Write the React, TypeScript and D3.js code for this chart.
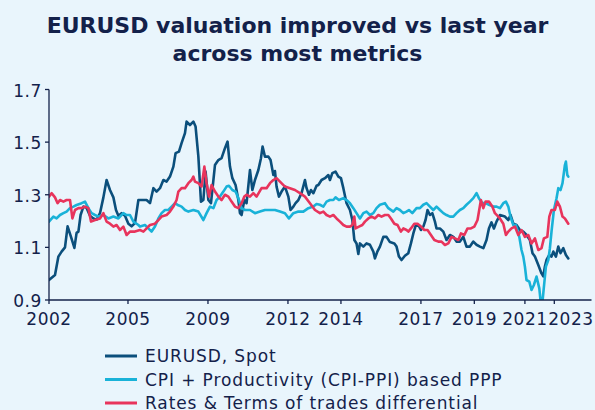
import React from 'react';
import * as d3 from 'd3';

// months since Jan 2002 (as placed on the chart's axis), value
const spot: [number, number][] = [
  [0, 0.976], [3, 0.995], [4.7, 1.065], [6.3, 1.084], [8, 1.1], [9.3, 1.18], [11, 1.14], [12.7, 1.098],
  [13.8, 1.155], [14.7, 1.16], [15.8, 1.223], [17.2, 1.255], [18.8, 1.25], [20.5, 1.22], [22.2, 1.21],
  [23.8, 1.205], [25.5, 1.23], [27.2, 1.29], [28.8, 1.356], [30.5, 1.318], [32.2, 1.29], [33.5, 1.242],
  [34.7, 1.22], [36.3, 1.23], [38, 1.22], [39.7, 1.19], [41.3, 1.18], [43, 1.192], [44.7, 1.28],
  [46.3, 1.28], [48.8, 1.28], [50.5, 1.268], [52.2, 1.325], [53.8, 1.312], [55.5, 1.325], [57.2, 1.356],
  [58.8, 1.35], [60.5, 1.369], [62.2, 1.407], [63.3, 1.458], [65, 1.464], [66.3, 1.496], [68, 1.534],
  [68.8, 1.578], [70.5, 1.565], [72.2, 1.578], [73.3, 1.559], [74.7, 1.445], [76, 1.274], [77.2, 1.28],
  [78.3, 1.388], [79.7, 1.28], [81, 1.268], [83, 1.413], [84.7, 1.432], [86.3, 1.439], [88, 1.477],
  [89.3, 1.502], [90.5, 1.407], [91.7, 1.363], [93.3, 1.337], [94.7, 1.28], [95.5, 1.23], [96.3, 1.223],
  [97.7, 1.28], [98.8, 1.268], [100.5, 1.394], [101.7, 1.318], [103, 1.356], [104.7, 1.394], [106, 1.439],
  [106.8, 1.483], [108, 1.445], [109.7, 1.445], [110.8, 1.432], [112.2, 1.375], [113, 1.39], [113.8, 1.331],
  [115, 1.293], [116.3, 1.312], [118, 1.331], [119.7, 1.293], [120.8, 1.242], [122.2, 1.255], [123.3, 1.268],
  [124.7, 1.28], [126.3, 1.306], [128, 1.356], [128.8, 1.325], [130, 1.3], [131, 1.318], [132.2, 1.306],
  [133.8, 1.334], [134.7, 1.337], [136.3, 1.356], [138, 1.363], [139.7, 1.375], [140.5, 1.356],
  [141.7, 1.382], [143.3, 1.388], [144.7, 1.369], [146, 1.363], [147.2, 1.325], [148.8, 1.268],
  [150.5, 1.242], [151.7, 1.204], [152.7, 1.128], [153.8, 1.115], [154.7, 1.075], [155.5, 1.115],
  [157.2, 1.103], [158.8, 1.115], [160.5, 1.11], [162.2, 1.084], [163, 1.058], [164.2, 1.084],
  [165.5, 1.103], [167.2, 1.14], [168.8, 1.14], [170.5, 1.12], [172.7, 1.115], [173.8, 1.103],
  [175, 1.065], [176.3, 1.052], [178, 1.068], [179.7, 1.078], [181, 1.115], [182.2, 1.153], [183.3, 1.181],
  [184.7, 1.185], [186, 1.166], [187.2, 1.179], [188.3, 1.204], [189.3, 1.242], [190.5, 1.223],
  [191.7, 1.23], [193, 1.198], [193.8, 1.172], [195.5, 1.172], [197.2, 1.16], [198.8, 1.128],
  [200.5, 1.147], [202.2, 1.14], [203.8, 1.122], [205.5, 1.122], [207.2, 1.14], [208.8, 1.103],
  [210.5, 1.103], [212.2, 1.122], [213.8, 1.11], [215.5, 1.103], [217.2, 1.097], [218.8, 1.128],
  [220, 1.172], [221.3, 1.195], [222.5, 1.172], [223.8, 1.198], [225.5, 1.223], [228, 1.217],
  [229.7, 1.204], [230.8, 1.223], [232.2, 1.19], [233.8, 1.185], [235.5, 1.166], [237.2, 1.16],
  [238.8, 1.147], [240.5, 1.128], [241.8, 1.078], [243, 1.065], [244.7, 1.033], [246.3, 1.001],
  [247.2, 0.99], [248, 1.027], [248.8, 1.052], [250.2, 1.071], [251.3, 1.065], [252.2, 1.084],
  [253.5, 1.065], [254.7, 1.103], [255.8, 1.078], [257.2, 1.097], [258.5, 1.071], [259.7, 1.058],
];

const ppp: [number, number][] = [
  [0, 1.198], [2.2, 1.217], [3.8, 1.21], [5.5, 1.223], [7.2, 1.23], [8.8, 1.236], [10.5, 1.249],
  [12.2, 1.255], [13.8, 1.261], [16.3, 1.268], [18, 1.274], [19.7, 1.249], [21.3, 1.23], [23, 1.223],
  [24.7, 1.217], [27.2, 1.223], [29.7, 1.21], [32.2, 1.217], [34.7, 1.21], [37.2, 1.23], [38.8, 1.223],
  [40.5, 1.223], [42.2, 1.198], [44.7, 1.185], [45.5, 1.179], [48, 1.185], [49.7, 1.172], [51.3, 1.16],
  [53, 1.179], [54.7, 1.21], [56.3, 1.23], [58, 1.242], [59.7, 1.242], [61.3, 1.255], [63, 1.268],
  [64.7, 1.26], [66.3, 1.255], [68, 1.242], [69.7, 1.236], [72.2, 1.242], [74.7, 1.236], [77.2, 1.204],
  [78.8, 1.23], [80.5, 1.255], [82.2, 1.249], [83.8, 1.28], [85.5, 1.293], [87.2, 1.312], [88.8, 1.331],
  [90, 1.334], [91.7, 1.318], [93.3, 1.312], [94.7, 1.287], [96.3, 1.249], [98, 1.242], [100.5, 1.242],
  [103, 1.23], [105.5, 1.236], [108, 1.242], [110.5, 1.242], [113, 1.242], [115.5, 1.236], [118, 1.23],
  [120, 1.21], [122.2, 1.23], [124.7, 1.236], [127.2, 1.236], [129.7, 1.249], [132.2, 1.255],
  [133.8, 1.265], [135.5, 1.262], [137.2, 1.255], [138.8, 1.274], [140.5, 1.28], [142.2, 1.28],
  [143.3, 1.29], [145, 1.28], [147.2, 1.287], [148.8, 1.28], [150.5, 1.268], [152.2, 1.249],
  [153.8, 1.23], [155.5, 1.21], [157.2, 1.23], [158.8, 1.236], [160.5, 1.223], [162.2, 1.23],
  [163.8, 1.249], [165.5, 1.262], [168, 1.268], [169.7, 1.249], [172.2, 1.236], [173.8, 1.249],
  [175.5, 1.242], [177.2, 1.23], [178.8, 1.236], [180, 1.242], [181.7, 1.23], [183.8, 1.249],
  [185.5, 1.249], [187.2, 1.262], [188.8, 1.268], [190.5, 1.255], [192.2, 1.242], [193.8, 1.255],
  [195.5, 1.242], [197.2, 1.23], [198.8, 1.223], [200.5, 1.217], [202.2, 1.217], [203.8, 1.23],
  [205.5, 1.242], [207.2, 1.249], [208.8, 1.262], [210.5, 1.274], [212.2, 1.287], [213.8, 1.306],
  [215, 1.287], [216.7, 1.268], [218.3, 1.268], [220, 1.262], [222.2, 1.255], [223.8, 1.255],
  [225.5, 1.249], [227.2, 1.268], [228.5, 1.274], [229.7, 1.255], [230.8, 1.217], [232.2, 1.185],
  [233.5, 1.185], [235.2, 1.14], [236.3, 1.09], [237.2, 1.065], [238, 1.027], [238.8, 0.976],
  [240.2, 0.97], [241.3, 0.938], [242.5, 0.957], [243.8, 0.989], [245.2, 0.944], [245.8, 0.9],
  [246.8, 0.895], [247.5, 0.95], [248.5, 1.027], [249.7, 1.052], [250.5, 1.097], [251.3, 1.16],
  [252.5, 1.242], [253.8, 1.287], [254.7, 1.325], [255.8, 1.318], [256.8, 1.344], [258, 1.413],
  [258.5, 1.426], [259.2, 1.375], [259.7, 1.369],
];

const ratesTot: [number, number][] = [
  [0, 1.293], [1.3, 1.306], [3, 1.29], [4.3, 1.268], [5.5, 1.28], [7.2, 1.274], [8.8, 1.28], [10.5, 1.28],
  [11.7, 1.21], [13, 1.242], [14.7, 1.249], [16.3, 1.249], [18, 1.255], [19.7, 1.249], [21, 1.198],
  [23, 1.204], [25.5, 1.21], [27.2, 1.23], [28.8, 1.198], [30.5, 1.19], [32.2, 1.179], [33.8, 1.185],
  [35.5, 1.166], [37.2, 1.179], [38.8, 1.147], [40.5, 1.16], [43, 1.16], [45.5, 1.166], [47.2, 1.16],
  [48.8, 1.172], [50.5, 1.185], [53, 1.19], [54.7, 1.204], [56.3, 1.217], [58.8, 1.223], [60.5, 1.236],
  [62.2, 1.255], [63.8, 1.28], [64.7, 1.312], [66.3, 1.325], [68, 1.325], [69.7, 1.344], [71.3, 1.356],
  [72.2, 1.369], [73, 1.35], [74.7, 1.344], [76.3, 1.331], [77.7, 1.407], [78.8, 1.344], [80, 1.293],
  [81.3, 1.337], [83, 1.312], [84.7, 1.293], [86.3, 1.28], [88, 1.3], [89.7, 1.293], [91.3, 1.274],
  [93, 1.255], [94.7, 1.249], [96.3, 1.268], [97.7, 1.293], [98.8, 1.3], [100.5, 1.293], [102.2, 1.306],
  [103.8, 1.293], [106.3, 1.325], [108.8, 1.325], [110.5, 1.344], [112.2, 1.356], [113.8, 1.363],
  [115.5, 1.35], [118, 1.331], [120.5, 1.325], [123, 1.318], [125.5, 1.306], [128, 1.293], [130.5, 1.268],
  [133, 1.242], [135.5, 1.23], [137.2, 1.236], [138.8, 1.223], [140.5, 1.217], [142.2, 1.223],
  [143.8, 1.21], [145.5, 1.198], [147.2, 1.185], [148.8, 1.179], [150.5, 1.179], [151.7, 1.185],
  [152.7, 1.217], [153.3, 1.172], [155, 1.179], [156.7, 1.185], [158, 1.198], [159.7, 1.21],
  [161.3, 1.217], [163, 1.21], [164.7, 1.223], [166.3, 1.217], [168, 1.223], [169.7, 1.223], [171, 1.21],
  [172.7, 1.19], [174.3, 1.185], [176, 1.16], [177.2, 1.172], [178.8, 1.166], [179.7, 1.16], [181, 1.172],
  [182.7, 1.19], [184.3, 1.19], [186, 1.179], [187.7, 1.166], [189.3, 1.166], [191, 1.147], [192.7, 1.128],
  [194.7, 1.122], [196.3, 1.122], [198, 1.109], [199.7, 1.115], [201.3, 1.14], [203, 1.134],
  [204.7, 1.128], [206, 1.153], [207.7, 1.147], [209.3, 1.172], [211, 1.172], [212.7, 1.179],
  [214.3, 1.204], [216, 1.28], [217.2, 1.249], [218.3, 1.274], [220, 1.274], [221.7, 1.255], [223, 1.23],
  [224.7, 1.217], [225.5, 1.21], [227.2, 1.19], [228.5, 1.147], [229.7, 1.16], [231.3, 1.172],
  [233, 1.179], [234.7, 1.147], [236.3, 1.166], [238, 1.14], [239.7, 1.147], [241.3, 1.115],
  [243, 1.134], [244.7, 1.09], [246.3, 1.097], [247.5, 1.134], [249.2, 1.14], [250.2, 1.217],
  [251.3, 1.242], [253, 1.242], [254.2, 1.274], [255.5, 1.255], [256.8, 1.217], [258, 1.21], [259.7, 1.19],
];

const seriesNames = ['EURUSD, Spot', 'CPI + Productivity (CPI-PPI) based PPP', 'Rates & Terms of trades differential'];
const seriesColors = ['#0b4f7c', '#19b2d8', '#e8345c'];
const yTicks = [0.9, 1.1, 1.3, 1.5, 1.7];
const xTickLabels = ['2002', '2005', '2009', '2012', '2014', '2017', '2019', '2021', '2023'];
const xTickMonths = [0, 39.5, 79.5, 119.5, 146, 186, 212.7, 238, 252.7];

const ink = '#13214a';
const font = '"DejaVu Sans", sans-serif';

export default function App() {
  const width = 595;
  const height = 410;
  const x = d3.scaleLinear().domain([0, 271.3]).range([49, 591.5]);
  const y = d3.scaleLinear().domain([0.9, 1.7]).range([300, 89.5]);
  const line = d3.line<[number, number]>()
    .x(d => x(d[0]))
    .y(d => y(d[1]));
  const series = [spot, ppp, ratesTot];

  // like the source chart, push a tick label right when it would run into the previous one
  const labelHalf = 23;
  const labelX: number[] = [];
  xTickMonths.forEach((m, i) => {
    const px = x(m);
    labelX.push(i === 0 ? px : Math.max(px, labelX[i - 1] + 2 * labelHalf));
  });

  return (
    <svg width={width} height={height} style={{ position: 'absolute', left: 0, top: 0, display: 'block' }}>
      <rect width={width} height={height} fill="#e9f5fc" />
      <text x={297.5} y={33} textAnchor="middle" fontFamily={font} fontWeight={700} fontSize={22} fill={ink}>
        EURUSD valuation improved vs last year
      </text>
      <text x={297.5} y={61} textAnchor="middle" fontFamily={font} fontWeight={700} fontSize={22} fill={ink}>
        across most metrics
      </text>

      <defs>
        <clipPath id="plot">
          <rect x={x(0)} y={y(1.7) - 5} width={x(271.3) - x(0)} height={y(0.9) - y(1.7) + 5} />
        </clipPath>
      </defs>

      <g clipPath="url(#plot)">
        {series.map((s, i) => (
          <path key={i} d={line(s) || ''} fill="none" stroke={seriesColors[i]} strokeWidth={2.6}
            strokeLinejoin="round" strokeLinecap="round" />
        ))}
      </g>

      {/* y axis */}
      <line x1={x(0)} x2={x(0)} y1={y(1.7)} y2={y(0.9)} stroke={ink} strokeWidth={1.3} />
      {yTicks.map(t => (
        <g key={t}>
          <line x1={x(0) - 4} x2={x(0)} y1={y(t)} y2={y(t)} stroke={ink} strokeWidth={1.3} />
          <text x={42} y={y(t) + 2} textAnchor="end" dominantBaseline="middle" fontFamily={font}
            fontSize={17} letterSpacing={0.6} fill={ink}>{t.toFixed(1)}</text>
        </g>
      ))}

      {/* x axis */}
      <line x1={x(0)} x2={x(271.3)} y1={y(0.9)} y2={y(0.9)} stroke={ink} strokeWidth={1.3} />
      {xTickMonths.map((m, i) => (
        <g key={m}>
          <line x1={x(m)} x2={x(m)} y1={y(0.9)} y2={y(0.9) + 4} stroke={ink} strokeWidth={1.3} />
          <text x={labelX[i]} y={325} textAnchor="middle" fontFamily={font} fontSize={17} letterSpacing={0.5}
            fill={ink}>{xTickLabels[i]}</text>
        </g>
      ))}

      {/* legend */}
      {seriesNames.map((name, i) => (
        <g key={name} transform={`translate(105, ${356 + i * 23.5})`}>
          <line x1={0} x2={32} y1={0} y2={0} stroke={seriesColors[i]} strokeWidth={3} />
          <text x={40} y={6} fontFamily={font} fontSize={17} letterSpacing={0.9} fill={ink}>{name}</text>
        </g>
      ))}
    </svg>
  );
}
